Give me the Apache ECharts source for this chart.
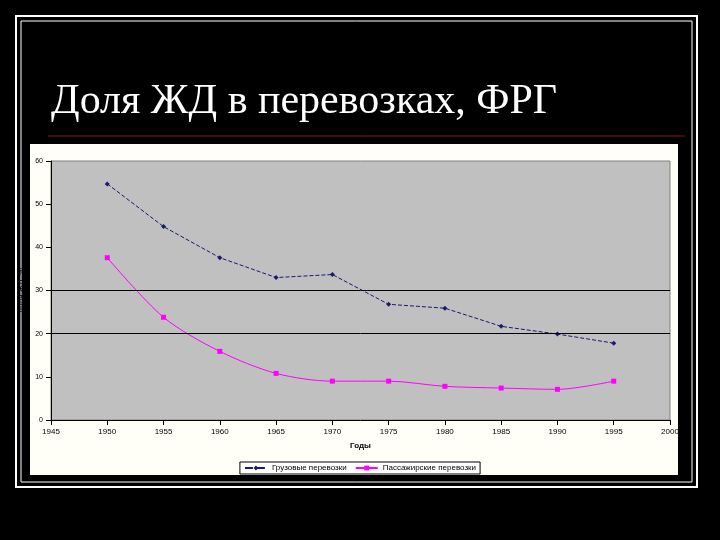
<!DOCTYPE html>
<html>
<head>
<meta charset="utf-8">
<script src="https://cdn.jsdelivr.net/npm/echarts@6/dist/echarts.min.js"></script>
<style>html,body{margin:0;padding:0;background:#000;}#chart{width:720px;height:540px;}</style>
</head>
<body>
<div id="chart"></div>
<script>
const years = [1950, 1955, 1960, 1965, 1970, 1975, 1980, 1985, 1990, 1995];
const freight = [54.7, 44.8, 37.6, 33, 33.7, 26.8, 25.9, 21.7, 19.9, 17.8];
const passenger = [37.6, 23.8, 15.9, 10.8, 9, 9, 7.8, 7.4, 7.1, 9];
const refLines = [20, 30];

const chart = echarts.init(document.getElementById("chart"));
const pair = (vals) => years.map((y, i) => [y, vals[i]]);
chart.setOption({
  backgroundColor: "#000",
  animation: false,
  title: {
    text: "Доля ЖД в перевозках, ФРГ",
    left: 46,
    top: 76,
    textStyle: { color: "#fff", fontFamily: "Liberation Serif", fontSize: 42, fontWeight: "normal" },
  },
  graphic: [
    { type: "rect", shape: { x: 16, y: 16, width: 681, height: 471 }, style: { fill: null, stroke: "#fff", lineWidth: 2 } },
    { type: "rect", shape: { x: 21, y: 21, width: 671, height: 461 }, style: { fill: null, stroke: "#fff", lineWidth: 1 } },
    { type: "line", shape: { x1: 48, y1: 136, x2: 685, y2: 136 }, style: { stroke: "#8b1a1a", lineWidth: 1 } },
    { type: "rect", z: -1, shape: { x: 30, y: 144, width: 648, height: 331 }, style: { fill: "#fffff8" } },
  ],
  grid: { left: 51, right: 50, top: 161, bottom: 120, backgroundColor: "#c0c0c0", show: true, borderColor: "#808080", borderWidth: 1 },
  xAxis: {
    type: "value", min: 1945, max: 2000, interval: 5,
    name: "Годы", nameLocation: "middle", nameGap: 22,
    nameTextStyle: { fontSize: 8, fontWeight: "bold", color: "#000" },
    axisLine: { lineStyle: { color: "#000" } },
    axisTick: { lineStyle: { color: "#000" } },
    axisLabel: { fontSize: 8, color: "#000", formatter: (v) => String(v) },
    splitLine: { show: false },
  },
  yAxis: {
    type: "value", min: 0, max: 60, interval: 10,
    name: "Доля ЖД, %", nameLocation: "middle", nameGap: 15,
    nameTextStyle: { fontSize: 8, color: "#000" },
    axisLine: { show: true, lineStyle: { color: "#000" } },
    axisTick: { show: true, lineStyle: { color: "#000" } },
    axisLabel: { fontSize: 7, color: "#000" },
    splitLine: { show: false },
  },
  legend: {
    bottom: 66, left: "center", itemGap: 8,
    backgroundColor: "#fff", borderColor: "#000", borderWidth: 1, padding: [2, 4],
    itemWidth: 22, itemHeight: 6,
    textStyle: { fontSize: 8, color: "#000" },
  },
  series: [
    {
      name: "Грузовые перевозки", type: "line", data: pair(freight),
      symbol: "diamond", symbolSize: 5, color: "#1a1a6e", lineStyle: { width: 1, type: "dashed" },
      markLine: {
        silent: true, symbol: "none", label: { show: false },
        lineStyle: { color: "#000", type: "solid", width: 1 },
        data: refLines.map((v) => ({ yAxis: v })),
      },
    },
    {
      name: "Пассажирские перевозки", type: "line", data: pair(passenger),
      symbol: "rect", symbolSize: 5, color: "#ff00ff", smooth: 0.3, lineStyle: { width: 1 },
    },
  ],
});
</script>
</body>
</html>
